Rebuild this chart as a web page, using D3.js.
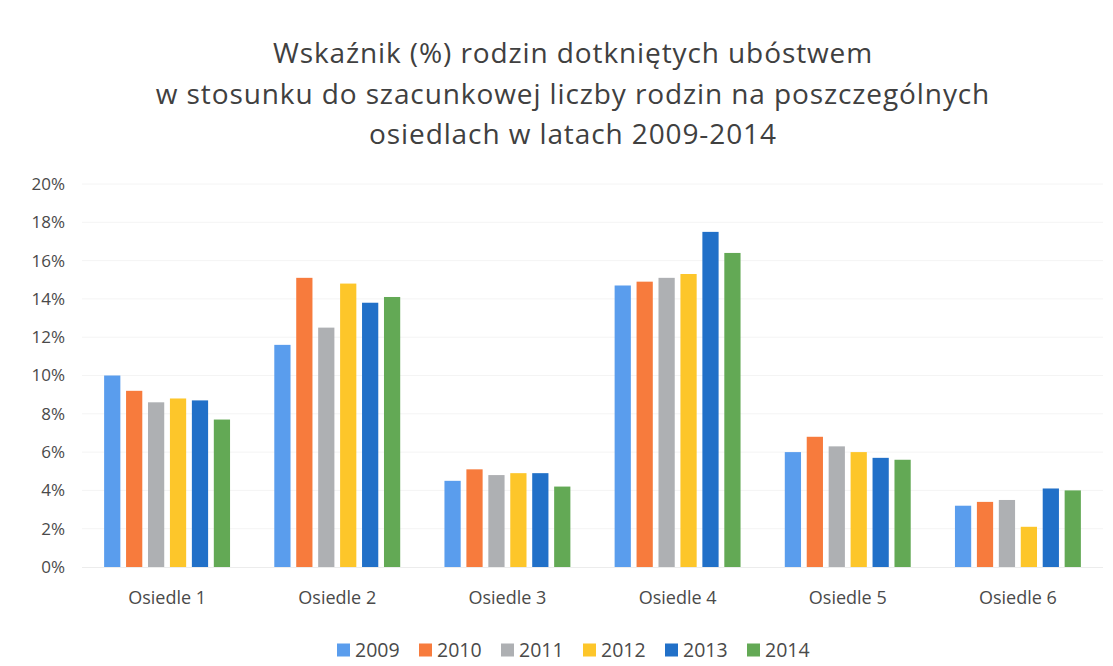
<!DOCTYPE html>
<html><head><meta charset="utf-8">
<script src="https://cdn.jsdelivr.net/npm/d3@7"></script>
<style>body{margin:0;background:#fff}svg{display:block}text{font-family:"Open Sans",sans-serif;fill:#4a4a4a}</style>
</head><body><div id="chart"></div>
<script>
const titleLines = ["Wskaźnik (%) rodzin dotkniętych ubóstwem", "w stosunku do szacunkowej liczby rodzin na poszczególnych", "osiedlach w latach 2009-2014"];
const categories = ["Osiedle 1", "Osiedle 2", "Osiedle 3", "Osiedle 4", "Osiedle 5", "Osiedle 6"];
const years = ["2009", "2010", "2011", "2012", "2013", "2014"];
const colors = ["#5a9ded", "#f77b3d", "#aeb0b3", "#fdc62a", "#2170c8", "#63a955"];
const v2009 = [10.0, 11.6, 4.5, 14.7, 6.0, 3.2];
const v2010 = [9.2, 15.1, 5.1, 14.9, 6.8, 3.4];
const v2011 = [8.6, 12.5, 4.8, 15.1, 6.3, 3.5];
const v2012 = [8.8, 14.8, 4.9, 15.3, 6.0, 2.1];
const v2013 = [8.7, 13.8, 4.9, 17.5, 5.7, 4.1];
const v2014 = [7.7, 14.1, 4.2, 16.4, 5.6, 4.0];
const series = [v2009, v2010, v2011, v2012, v2013, v2014];
const yTicks = [0, 2, 4, 6, 8, 10, 12, 14, 16, 18, 20];

const W = 1113, H = 666;
const svg = d3.select("#chart").append("svg").attr("width", W).attr("height", H);

const x0 = d3.scaleBand().domain(categories).range([82, 1103]).paddingInner(0.26).paddingOuter(0.13);
const x1 = d3.scaleBand().domain(years).range([0, x0.bandwidth()]).paddingInner(0.26);
const y = d3.scaleLinear().domain([0, 20]).range([567, 184]);

// title
svg.append("g").selectAll("text").data(titleLines).join("text")
  .attr("x", 573).attr("y", (d, i) => 63 + i * 40.5)
  .attr("text-anchor", "middle").style("font-size", "28px").style("letter-spacing", "0.9px")
  .style("fill", "#404040").text(d => d);

// gridlines
svg.append("g").selectAll("line").data(yTicks.slice(1)).join("line")
  .attr("x1", 82).attr("x2", 1103).attr("y1", d => y(d)).attr("y2", d => y(d))
  .attr("stroke", "#f4f4f4").attr("stroke-width", 1);

// y axis
const yAxis = d3.axisLeft(y).tickValues(yTicks).tickFormat(d => d + "%").tickSize(0).tickPadding(0);
const yg = svg.append("g").attr("transform", "translate(65,0)").call(yAxis);
yg.select(".domain").remove();
yg.selectAll("text").attr("font-family", null).attr("font-size", null)
  .style("font-size", "17px").style("fill", "#4a4a4a");

// bars
const groups = svg.append("g").selectAll("g").data(categories).join("g")
  .attr("transform", c => `translate(${x0(c)},0)`);
groups.selectAll("rect").data((c, ci) => years.map((yr, si) => ({yr, si, v: series[si][ci]}))).join("rect")
  .attr("x", d => x1(d.yr)).attr("width", x1.bandwidth())
  .attr("y", d => y(d.v)).attr("height", d => y(0) - y(d.v))
  .attr("fill", d => colors[d.si]);

// baseline
svg.append("line").attr("x1", 82).attr("x2", 1103).attr("y1", y(0) + 0.5).attr("y2", y(0) + 0.5)
  .attr("stroke", "#ececec");

// x axis
const xAxis = d3.axisBottom(x0).tickSize(0).tickPadding(0);
const xg = svg.append("g").attr("transform", `translate(0,${y(0) + 24})`).call(xAxis);
xg.select(".domain").remove();
xg.selectAll("text").attr("font-family", null).attr("font-size", null)
  .style("font-size", "18px").style("fill", "#4a4a4a");

// legend
const legend = svg.append("g").selectAll("g").data(years).join("g")
  .attr("transform", (d, i) => `translate(${337 + i * 82},650)`);
legend.append("rect").attr("x", 0).attr("y", -6.5).attr("width", 13).attr("height", 13)
  .attr("fill", (d, i) => colors[i]);
legend.append("text").attr("x", 18).attr("y", 7).style("font-size", "19.5px").text(d => d);
</script></body></html>
